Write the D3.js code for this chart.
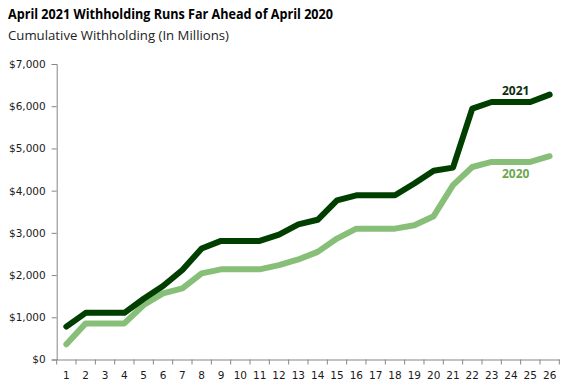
<!DOCTYPE html>
<html><head><meta charset="utf-8">
<script src="https://cdn.jsdelivr.net/npm/d3@7"></script>
<style>
body{margin:0;background:#fff;}
svg{display:block;}
</style></head><body>
<svg id="c" width="567" height="392"></svg>
<script>
const categories = ["1","2","3","4","5","6","7","8","9","10","11","12","13","14","15","16","17","18","19","20","21","22","23","24","25","26"];
const values2021 = [780,1105,1105,1105,1440,1740,2120,2630,2810,2810,2810,2960,3200,3310,3770,3890,3890,3890,4170,4470,4545,5945,6100,6100,6100,6275];
const values2020 = [360,855,855,855,1290,1565,1685,2040,2135,2135,2135,2235,2370,2550,2865,3100,3100,3100,3180,3395,4130,4560,4680,4680,4680,4815];
const yTicks = [0,1000,2000,3000,4000,5000,6000,7000];
const title = "April 2021 Withholding Runs Far Ahead of April 2020";
const subtitle = "Cumulative Withholding (In Millions)";

const svg = d3.select("#c");
const mLeft = 56.7, mRight = 559.3, mTop = 64, mBottom = 359.5;
const x = d3.scaleBand().domain(categories).range([mLeft, mRight]);
const y = d3.scaleLinear().domain([0, 7000]).range([mBottom, mTop]);

svg.append("text").attr("x", 8).attr("y", 19)
  .attr("font-family", "'Open Sans', sans-serif").attr("font-weight", "bold")
  .attr("font-size", 14).attr("fill", "#000").attr("textLength", 325)
  .attr("lengthAdjust", "spacingAndGlyphs").text(title);
svg.append("text").attr("x", 8).attr("y", 40)
  .attr("font-family", "'Open Sans', sans-serif")
  .attr("font-size", 12.5).attr("fill", "#222").attr("textLength", 221)
  .attr("lengthAdjust", "spacingAndGlyphs").text(subtitle);

const fmt = v => "$" + d3.format(",")(v);
const yAxis = svg.append("g").attr("transform", `translate(${mLeft},0)`)
  .call(d3.axisLeft(y).tickValues(yTicks).tickFormat(fmt).tickSize(5).tickPadding(6));
const xAxis = svg.append("g").attr("transform", `translate(0,${mBottom})`)
  .call(d3.axisBottom(x).tickSize(0).tickPadding(12));
const bounds = categories.map(c => x(c)).concat([mRight]);
xAxis.selectAll(".bt").data(bounds).enter().append("line")
  .attr("class", "bt")
  .attr("x1", d => d).attr("x2", d => d).attr("y1", 0).attr("y2", 5)
  .attr("stroke", "#868686");
[yAxis, xAxis].forEach(g => {
  g.attr("font-size", null).attr("font-family", null);
  g.select(".domain").attr("stroke", "#868686");
  g.selectAll(".tick line").attr("stroke", "#868686");
  g.selectAll("text").style("font-family", "'DejaVu Sans', Verdana, sans-serif")
    .style("font-size", "10.5px").attr("fill", "#1a1a1a");
});

const line = d3.line().x((d, i) => x(categories[i]) + x.bandwidth() / 2).y(d => y(d));
svg.append("path").datum(values2020).attr("d", line).attr("fill", "none")
  .attr("stroke", "#88bf78").attr("stroke-width", 6).attr("stroke-linejoin", "round").attr("stroke-linecap", "round");
svg.append("path").datum(values2021).attr("d", line).attr("fill", "none")
  .attr("stroke", "#003f00").attr("stroke-width", 6).attr("stroke-linejoin", "round").attr("stroke-linecap", "round");

svg.append("text").attr("x", 502).attr("y", 95)
  .attr("font-family", "'Open Sans', sans-serif").attr("font-weight", "bold")
  .attr("font-size", 12).attr("fill", "#0d2e0d").text("2021");
svg.append("text").attr("x", 502).attr("y", 177.5)
  .attr("font-family", "'Open Sans', sans-serif").attr("font-weight", "bold")
  .attr("font-size", 12).attr("fill", "#6aa84f").text("2020");
</script>
</body></html>
